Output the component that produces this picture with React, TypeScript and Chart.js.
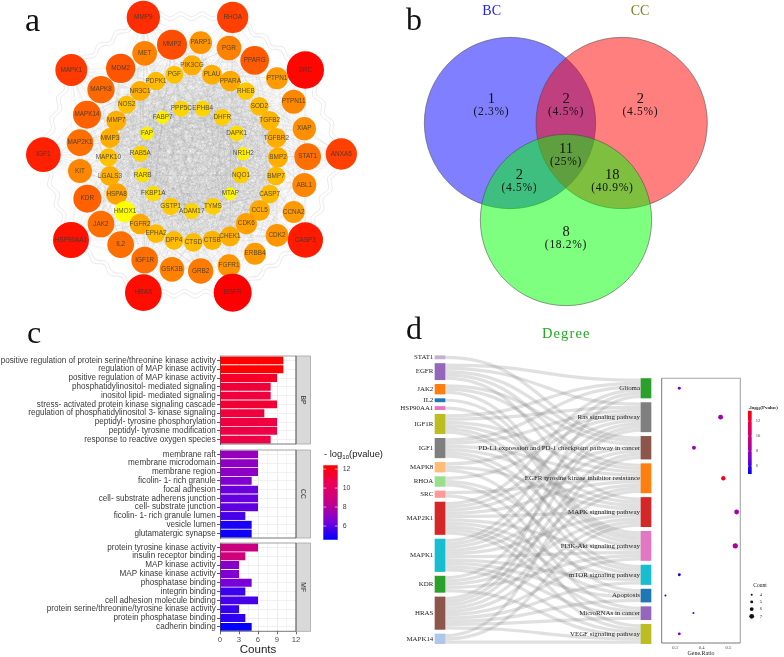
import React, { useEffect, useRef } from "react";
import { Chart, registerables } from "chart.js";

Chart.register(...registerables);

const SANS = '"Liberation Sans", Arial, sans-serif';
const SERIF = '"Liberation Serif", "Times New Roman", serif';

/* ---------- a: network ---------- */
const nodeNames = ["MMP9","RHOA","MMP2","PARP1","PGR","MET","PPARG","SRC","MAPK1","MDM2","PIK3CG","PGF","PDPK1","PLAU","PPARA","PTPN1","NR3C1","MAPK8","RHEB","PTPN11","SOD2","NOS2","PPP5C","EPHB4","FABP7","DHFR","MAPK14","MMP7","TGFB2","XIAP","FAP","DAPK1","MAP2K1","MMP3","TGFBR2","RAB5A","NR1H2","IGF1","ANXA5","STAT1","BMP2","MAPK10","KIT","LGALS3","RARB","NQO1","BMP7","ABL1","KDR","HSPA8","FKBP1A","MTAP","CASP7","GSTP1","ADAM17","TYMS","CCL5","CCNA2","HMOX1","FGFR2","CDK6","JAK2","HSP90AA1","CASP3","EPHA2","CHEK1","CDK2","DPP4","CTSD","CTSB","IL2","ERBB4","IGF1R","GSK3B","GRB2","FGFR1","HRAS","EGFR"];
const nodeX = [430,698,516,602,687,434,764,916,214,362,576,523,468,636,691,831,420,303,738,881,778,380,544,608,488,667,261,349,809,913,441,710,240,330,829,421,730,130,1024,923,834,325,240,330,428,723,828,913,262,350,460,691,809,512,575,639,779,881,375,420,739,303,213,916,468,690,831,522,580,637,362,765,434,516,602,687,430,698];
const nodeY = [52,52,134,128,144,160,181,210,210,205,196,224,243,224,243,235,273,269,273,305,319,314,326,326,352,352,344,362,362,386,400,400,428,414,414,461,461,464,462,470,472,472,513,528,525,525,528,555,596,582,581,581,582,619,633,619,631,636,635,672,671,672,720,720,701,709,706,721,727,721,734,761,780,808,813,797,878,878];
const nodeDegree = [50,47,45,34,37,37,43,56,48,44,30,27,28,30,31,33,30,41,26,36,28,27,24,24,20,25,42,30,29,35,20,23,40,30,30,24,20,52,47,40,30,27,36,30,22,25,28,36,42,32,23,19,28,26,24,25,31,33,32,31,32,40,54,53,28,30,34,28,28,29,40,33,40,37,38,34,55,57];
const heatOverride: Record<string, number> = { HMOX1: 17 };
const hullNodes = ["MAPK1","MMP9","RHOA","SRC","ANXA5","CASP3","EGFR","HRAS","HSP90AA1","IGF1"];

function nodeColor(i: number) {
  const d = heatOverride[nodeNames[i]] ?? nodeDegree[i];
  const g = Math.max(0, Math.min(255, 245 - (d - 19) * 6.45));
  return `rgb(255,${Math.round(g)},0)`;
}

const networkPlugin = {
  id: "network",
  beforeDatasetsDraw(chart: any) {
    const { ctx, scales } = chart;
    const px = (i: number) => scales.x.getPixelForValue(nodeX[i]);
    const py = (i: number) => scales.y.getPixelForValue(nodeY[i]);
    ctx.save();
    ctx.lineWidth = 0.5;
    ctx.strokeStyle = "rgba(150,150,150,0.15)";
    for (let i = 0; i < nodeNames.length; i++) {
      for (let j = i + 1; j < nodeNames.length; j++) {
        const innerPair = nodeDegree[i] <= 31 && nodeDegree[j] <= 31;
        if ((i + j) % 2 && !innerPair) continue;
        ctx.beginPath();
        ctx.moveTo(px(i), py(i));
        ctx.lineTo(px(j), py(j));
        ctx.stroke();
      }
    }
    ctx.strokeStyle = "rgba(175,175,175,0.5)";
    hullNodes.forEach((name, k) => {
      const a = nodeNames.indexOf(name);
      const b = nodeNames.indexOf(hullNodes[(k + 1) % hullNodes.length]);
      const x0 = px(a), y0 = py(a), x1 = px(b), y1 = py(b);
      const len = Math.hypot(x1 - x0, y1 - y0);
      const nx = -(y1 - y0) / len, ny = (x1 - x0) / len;
      [-3, 1].forEach((shift) => {
        ctx.beginPath();
        for (let s = 0; s <= len; s += 1.5) {
          const t = s / len;
          const w = Math.sin(s / 3.4) * 2.4 + shift;
          const bx = x0 + (x1 - x0) * t + nx * w, by = y0 + (y1 - y0) * t + ny * w;
          if (s === 0) ctx.moveTo(bx, by); else ctx.lineTo(bx, by);
        }
        ctx.stroke();
      });
    });
    ctx.restore();
  },
  afterDatasetsDraw(chart: any) {
    const { ctx, scales } = chart;
    ctx.save();
    ctx.font = `6.4px ${SANS}`;
    ctx.fillStyle = "rgba(55,55,55,0.85)";
    ctx.textAlign = "center";
    ctx.textBaseline = "middle";
    nodeNames.forEach((n, i) => ctx.fillText(n, scales.x.getPixelForValue(nodeX[i]), scales.y.getPixelForValue(nodeY[i])));
    ctx.restore();
  },
};

const hiddenScale = (min: number, max: number, reverse = false) => ({ type: "linear", display: false, min, max, reverse });
const baseOptions = (padding: any) => ({
  responsive: false,
  animation: false,
  maintainAspectRatio: false,
  layout: { padding, autoPadding: false },
  plugins: { legend: { display: false }, tooltip: { enabled: false }, title: { display: false } },
});
const noScalePadding = (s: any) => { s.paddingTop = 0; s.paddingBottom = 0; s.paddingLeft = 0; s.paddingRight = 0; };

const networkConfig = {
  type: "bubble",
  data: {
    datasets: [{
      data: nodeNames.map((_, i) => ({ x: nodeX[i], y: nodeY[i], r: nodeDegree[i] / 3 })),
      backgroundColor: nodeNames.map((_, i) => nodeColor(i)),
      borderWidth: 0,
      clip: false,
    }],
  },
  options: { ...baseOptions(0), scales: { x: hiddenScale(0, 1176), y: hiddenScale(0, 990, true) } },
  plugins: [networkPlugin],
};

/* ---------- b: Venn ---------- */
const vennSets = ["BC", "CC", "Degree"];
const vennX = [345, 680, 513];
const vennY = [369, 369, 660];
const vennR = [257, 257, 257];
const vennFill = ["rgba(0,0,255,0.5)", "rgba(255,0,0,0.5)", "rgba(0,255,0,0.5)"];
const vennCounts = ["1", "2", "2", "11", "2", "18", "8"];
const vennShares = ["(2.3%)", "(4.5%)", "(4.5%)", "(25%)", "(4.5%)", "(40.9%)", "(18.2%)"];
const vennLabelX = [289, 513, 736, 513, 373, 652, 513];
const vennLabelY = [297, 297, 297, 448, 525, 525, 697];

const vennPlugin = {
  id: "vennLabels",
  afterDatasetsDraw(chart: any) {
    const { ctx, scales } = chart;
    const X = (v: number) => scales.x.getPixelForValue(v);
    const Y = (v: number) => scales.y.getPixelForValue(v);
    ctx.save();
    ctx.textAlign = "center";
    ctx.textBaseline = "middle";
    ctx.font = `14px ${SERIF}`;
    ctx.fillStyle = "#2222ee";
    ctx.fillText(vennSets[0], X(290), Y(33));
    ctx.fillStyle = "#808020";
    ctx.fillText(vennSets[1], X(735), Y(33));
    vennCounts.forEach((c, i) => {
      ctx.fillStyle = "#111";
      ctx.font = `14.5px ${SERIF}`;
      ctx.fillText(c, X(vennLabelX[i]), Y(vennLabelY[i]));
      ctx.font = `11.5px ${SERIF}`;
      ctx.letterSpacing = "0.7px";
      ctx.fillText(vennShares[i], X(vennLabelX[i]), Y(vennLabelY[i] + 38));
      ctx.letterSpacing = "0px";
    });
    ctx.restore();
  },
};

const vennConfig = {
  type: "bubble",
  data: {
    datasets: [{
      data: vennX.map((x, i) => ({ x, y: vennY[i], r: vennR[i] / 3 })),
      backgroundColor: vennFill,
      borderColor: "rgba(70,70,70,0.9)",
      borderWidth: 0.6,
      clip: false,
    }],
  },
  options: { ...baseOptions(0), scales: { x: hiddenScale(0, 1167), y: hiddenScale(0, 990, true) } },
  plugins: [vennPlugin],
};

/* ---------- c: GO bars ---------- */
const bpTerms = ["positive regulation of protein serine/threonine kinase activity","regulation of MAP kinase activity","positive regulation of MAP kinase activity","phosphatidylinositol- mediated signaling","inositol lipid- mediated signaling","stress- activated protein kinase signaling cascade","regulation of phosphatidylinositol 3- kinase signaling","peptidyl- tyrosine phosphorylation","peptidyl- tyrosine modification","response to reactive oxygen species"];
const bpCounts = [10,10,9,8,8,9,7,9,9,8];
const bpLogP = [12.4,12.4,11.5,11.2,11.1,11.3,11.1,11.0,10.9,10.9];
const ccTerms = ["membrane raft","membrane microdomain","membrane region","ficolin- 1- rich granule","focal adhesion","cell- substrate adherens junction","cell- substrate junction","ficolin- 1- rich granule lumen","vesicle lumen","glutamatergic synapse"];
const ccCounts = [6,6,6,5,6,6,6,4,5,5];
const ccLogP = [7.2,7.1,7.0,6.7,6.3,6.2,6.1,5.7,5.0,4.8];
const mfTerms = ["protein tyrosine kinase activity","insulin receptor binding","MAP kinase activity","MAP kinase kinase activity","phosphatase binding","integrin binding","cell adhesion molecule binding","protein serine/threonine/tyrosine kinase activity","protein phosphatase binding","cadherin binding"];
const mfCounts = [6,4,3,3,5,4,6,3,4,5];
const mfLogP = [8.8,9.1,6.9,6.7,6.5,5.5,5.7,5.4,5.3,4.6];
const countTicks = [0, 1.5, 3, 4.5, 6, 7.5, 9, 10.5, 12];
const goRange = [4.56, 12.4];
const legendTicks = [6, 8, 10, 12];

const gradientStops: [number, number[]][] = [[0,[0,0,255]],[0.25,[122,0,216]],[0.5,[196,0,136]],[0.75,[232,0,90]],[1,[255,0,0]]];
function heat(t: number) {
  const c = Math.max(0, Math.min(1, t));
  for (let i = 1; i < gradientStops.length; i++) {
    const [t1, a] = gradientStops[i - 1];
    const [t2, b] = gradientStops[i];
    if (c <= t2) {
      const f = (c - t1) / (t2 - t1);
      return `rgb(${a.map((v, k) => Math.round(v + (b[k] - v) * f)).join(",")})`;
    }
  }
  return "rgb(255,0,0)";
}

function facetConfig(terms: string[], counts: number[], logP: number[], strip: string, showX: boolean, axisHeight: number) {
  const framePlugin = {
    id: "facetFrame",
    afterDatasetsDraw(chart: any) {
      const { ctx, chartArea: a } = chart;
      ctx.save();
      ctx.fillStyle = "#d9d9d9";
      ctx.fillRect(a.right, a.top, 14.5, a.bottom - a.top);
      ctx.strokeStyle = "#a8a8a8";
      ctx.lineWidth = 0.8;
      ctx.strokeRect(a.right, a.top, 14.5, a.bottom - a.top);
      ctx.strokeStyle = "#8a8a8a";
      ctx.beginPath(); ctx.moveTo(a.left, a.top); ctx.lineTo(a.right, a.top); ctx.stroke();
      ctx.strokeStyle = "#555";
      ctx.beginPath(); ctx.moveTo(a.left, a.bottom); ctx.lineTo(a.right, a.bottom); ctx.stroke();
      ctx.strokeStyle = "#444";
      ctx.beginPath(); ctx.moveTo(a.right, a.top); ctx.lineTo(a.right, a.bottom); ctx.stroke();
      ctx.translate(a.right + 7.2, (a.top + a.bottom) / 2);
      ctx.rotate(Math.PI / 2);
      ctx.fillStyle = "#333";
      ctx.font = `6.8px ${SANS}`;
      ctx.textAlign = "center";
      ctx.textBaseline = "middle";
      ctx.fillText(strip, 0, 0);
      ctx.restore();
    },
  };
  return {
    type: "bar",
    data: {
      labels: terms,
      datasets: [{
        data: counts,
        backgroundColor: logP.map((v) => heat((v - goRange[0]) / (goRange[1] - goRange[0]))),
        barPercentage: 0.9,
        categoryPercentage: 1,
      }],
    },
    options: {
      ...baseOptions({ left: 0, right: 24, top: 2, bottom: showX ? 0 : 2 }),
      indexAxis: "y",
      scales: {
        x: {
          type: "linear",
          min: 0,
          max: 12,
          afterBuildTicks: (s: any) => { s.ticks = countTicks.map((value) => ({ value })); },
          afterFit: (s: any) => { s.height = axisHeight; noScalePadding(s); },
          ticks: {
            display: showX, autoSkip: false, maxRotation: 0, padding: 1,
            font: { size: 7.7, family: SANS }, color: "#4d4d4d",
            callback: (v: number) => (v % 3 === 0 ? String(v) : ""),
          },
          grid: {
            color: (c: any) => (c.tick && c.tick.value % 3 === 0 ? "#e6e6e6" : "#f3f3f3"),
            lineWidth: 0.8, drawTicks: showX, tickLength: 3,
            tickColor: (c: any) => (c.tick && c.tick.value % 3 === 0 ? "#444" : "rgba(0,0,0,0)"),
          },
          border: { display: false },
          title: { display: showX, text: "Counts", font: { size: 11.6, family: SANS }, color: "#222", padding: { top: 0, bottom: 0 } },
        },
        y: {
          type: "category",
          afterFit: (s: any) => { s.width = 220; noScalePadding(s); },
          ticks: { autoSkip: false, padding: 1.3, font: { size: 8.15, family: SANS }, color: "#3a3a3a" },
          grid: { offset: false, color: "#ececec", lineWidth: 0.8, tickLength: 3, tickColor: "#333" },
          border: { display: true, color: "#444", width: 0.9 },
        },
      },
    },
    plugins: [framePlugin],
  };
}

function colorbarConfig(range: number[], ticks: number[], tickFont: string, tickSize: number, padding: any, axisWidth: number, tickPad: number, drawTitle: (ctx: any, a: any) => void) {
  const plugin = {
    id: "barDecor",
    afterDatasetsDraw(chart: any) {
      const { ctx, chartArea: a, scales } = chart;
      ctx.save();
      const mark = (a.right - a.left) / 5;
      ctx.strokeStyle = "#fff";
      ctx.lineWidth = 0.6;
      ticks.forEach((v) => {
        const y = scales.y.getPixelForValue(v);
        ctx.beginPath(); ctx.moveTo(a.left, y); ctx.lineTo(a.left + mark, y); ctx.moveTo(a.right - mark, y); ctx.lineTo(a.right, y); ctx.stroke();
      });
      drawTitle(ctx, a);
      ctx.restore();
    },
  };
  return {
    type: "bar",
    data: {
      labels: ["scale"],
      datasets: [{
        data: [[range[0], range[1]]],
        barPercentage: 1,
        categoryPercentage: 1,
        borderSkipped: false,
        backgroundColor: (c: any) => {
          const a = c.chart.chartArea;
          if (!a) return "#800080";
          const g = c.chart.ctx.createLinearGradient(0, a.bottom, 0, a.top);
          gradientStops.forEach(([t]) => g.addColorStop(t, heat(t)));
          return g;
        },
      }],
    },
    options: {
      ...baseOptions(padding),
      scales: {
        x: { type: "category", display: false },
        y: {
          type: "linear",
          position: "right",
          min: range[0],
          max: range[1],
          afterBuildTicks: (s: any) => { s.ticks = ticks.map((value) => ({ value })); },
          afterFit: (s: any) => { s.width = axisWidth; noScalePadding(s); },
          ticks: { padding: tickPad, font: { size: tickSize, family: tickFont }, color: "#444" },
          grid: { display: false, drawTicks: false, tickLength: 0 },
          border: { display: false },
        },
      },
    },
    plugins: [plugin],
  };
}

const goLegendConfig = colorbarConfig(goRange, legendTicks, SANS, 7, { left: 3.3, right: 0, top: 19.3, bottom: 5.3 }, 54.3, 5, (ctx, a) => {
  ctx.fillStyle = "#222";
  ctx.textAlign = "left";
  ctx.textBaseline = "alphabetic";
  const y = a.top - 8.5;
  let x = a.left + 0.7;
  ctx.font = `9.4px ${SANS}`;
  ctx.fillText("- log", x, y);
  x += ctx.measureText("- log").width;
  ctx.font = `6.2px ${SANS}`;
  ctx.fillText("10", x, y + 2);
  x += ctx.measureText("10").width;
  ctx.font = `9.4px ${SANS}`;
  ctx.fillText("(pvalue)", x, y);
});

/* ---------- d: Sankey + dots ---------- */
const genes = ["STAT1","EGFR","JAK2","IL2","HSP90AA1","IGF1R","IGF1","MAPK8","RHOA","SRC","MAP2K1","MAPK1","KDR","HRAS","MAPK14"];
const geneColors = ["#c5b0d5","#9467bd","#ff7f0e","#1f77b4","#e377c2","#bcbd22","#7f7f7f","#ffbb78","#98df8a","#ff9896","#d62728","#17becf","#2ca02c","#8c564b","#aec7e8"];
const pathways = ["Glioma","Ras signaling pathway","PD-L1 expression and PD-1 checkpoint pathway in cancer","EGFR tyrosine kinase inhibitor resistance","MAPK signaling pathway","PI3K-Akt signaling pathway","mTOR signaling pathway","Apoptosis","MicroRNAs in cancer","VEGF signaling pathway"];
const pathwayColors = ["#2ca02c","#7f7f7f","#8c564b","#ff7f0e","#d62728","#e377c2","#17becf","#1f77b4","#9467bd","#bcbd22"];
const pathwayGenes = [
  ["EGFR","IGF1R","IGF1","MAP2K1","MAPK1","HRAS"],
  ["EGFR","IGF1R","IGF1","MAPK8","RHOA","MAP2K1","MAPK1","KDR","HRAS"],
  ["STAT1","EGFR","JAK2","MAP2K1","MAPK1","HRAS","MAPK14"],
  ["EGFR","JAK2","IGF1R","IGF1","SRC","MAP2K1","MAPK1","KDR","HRAS"],
  ["EGFR","IGF1R","IGF1","MAPK8","MAP2K1","MAPK1","KDR","HRAS","MAPK14"],
  ["JAK2","IL2","HSP90AA1","IGF1R","IGF1","MAP2K1","MAPK1","KDR","HRAS"],
  ["IGF1R","IGF1","RHOA","MAP2K1","MAPK1","HRAS"],
  ["MAPK8","MAP2K1","MAPK1","HRAS"],
  ["RHOA","MAP2K1","MAPK1","HRAS"],
  ["SRC","MAP2K1","MAPK1","KDR","HRAS","MAPK14"],
];
const pathwayRatio = [0.316, 0.471, 0.371, 0.481, 0.531, 0.526, 0.316, 0.264, 0.369, 0.316];
const pathwayCount = [5, 7, 6, 6.5, 7, 7.4, 5, 4, 4, 5];
const pathwayLogP = [7.2, 8.1, 8.0, 12.6, 8.5, 8.5, 5.2, 5.0, 5.7, 7.2];
const ratioTicks = [0.3, 0.4, 0.5];
const dotRange = [4.93, 13.4];
const dotLegendTicks = [6, 8, 10, 12];
const sizeLegend = [4, 5, 6, 7];

const NODE_GAP = 1.406;
const geneCounts = genes.map((g) => pathwayGenes.filter((p) => p.includes(g)).length);
const pathwayCounts = pathwayGenes.map((p) => p.length);
const stackNodes = (counts: number[], start: number) => {
  let y = start;
  return counts.map((c) => { const r = [y, y + c]; y += c + NODE_GAP; return r; });
};
const geneSpans = stackNodes(geneCounts, 0);
const totalSpan = geneSpans[geneSpans.length - 1][1];
const pathwaySpans = stackNodes(pathwayCounts, totalSpan - (pathwayCounts.reduce((a, b) => a + b, 0) + NODE_GAP * (pathwayCounts.length - 1)));

const sankeyPlugin = {
  id: "sankeyLinks",
  beforeDatasetsDraw(chart: any) {
    const { ctx, chartArea: a, scales } = chart;
    const unit = Math.abs(scales.y.getPixelForValue(1) - scales.y.getPixelForValue(0));
    const x0 = a.left + 5, x1 = a.right - 5, mid = (x0 + x1) / 2;
    ctx.save();
    ctx.lineWidth = unit;
    ctx.strokeStyle = "rgba(125,125,125,0.24)";
    genes.forEach((g, gi) => {
      let off = 0;
      pathways.forEach((_, pi) => {
        if (!pathwayGenes[pi].includes(g)) return;
        const inOrder = genes.filter((n) => pathwayGenes[pi].includes(n)).indexOf(g);
        const ya = scales.y.getPixelForValue(geneSpans[gi][0] + off + 0.5);
        const yb = scales.y.getPixelForValue(pathwaySpans[pi][0] + inOrder + 0.5);
        off += 1;
        ctx.beginPath();
        ctx.moveTo(x0, ya);
        ctx.bezierCurveTo(mid, ya, mid, yb, x1, yb);
        ctx.stroke();
      });
    });
    ctx.restore();
  },
  afterDatasetsDraw(chart: any) {
    const { ctx, chartArea: a, scales } = chart;
    ctx.save();
    ctx.font = `6.9px ${SERIF}`;
    ctx.fillStyle = "#222";
    ctx.textAlign = "right";
    ctx.textBaseline = "middle";
    genes.forEach((g, i) => ctx.fillText(g, a.left - 6.7, scales.y.getPixelForValue((geneSpans[i][0] + geneSpans[i][1]) / 2)));
    pathways.forEach((p, i) => ctx.fillText(p, a.right - 6, scales.y.getPixelForValue((pathwaySpans[i][0] + pathwaySpans[i][1]) / 2)));
    ctx.restore();
  },
};

const sankeyConfig = {
  type: "bar",
  data: {
    labels: ["genes", "pathways"],
    datasets: [
      ...genes.map((g, i) => ({ label: g, data: [geneSpans[i], null], backgroundColor: geneColors[i] })),
      ...pathways.map((p, i) => ({ label: p, data: [null, pathwaySpans[i]], backgroundColor: pathwayColors[i] })),
    ].map((d) => ({ ...d, barThickness: 10, grouped: false, borderSkipped: false, clip: false })),
  },
  options: {
    ...baseOptions({ left: 45, right: 9, top: 5.7, bottom: 6.3 }),
    scales: {
      x: { type: "category", display: false, offset: false, grid: { offset: false } },
      y: hiddenScale(0, totalSpan, true),
    },
  },
  plugins: [sankeyPlugin],
};

const countRadius = (c: number) => 1 + (c - 4) * 0.47;

const dotFrame = {
  id: "dotFrame",
  afterDatasetsDraw(chart: any) {
    const { ctx, chartArea: a } = chart;
    ctx.save();
    ctx.lineWidth = 1.1;
    ctx.strokeStyle = "#a6a6a6";
    ctx.beginPath(); ctx.moveTo(a.left, a.top); ctx.lineTo(a.right, a.top); ctx.lineTo(a.right, a.bottom); ctx.stroke();
    ctx.lineWidth = 0.8;
    ctx.strokeStyle = "#555";
    ctx.beginPath(); ctx.moveTo(a.left, a.top); ctx.lineTo(a.left, a.bottom); ctx.lineTo(a.right, a.bottom); ctx.stroke();
    ctx.restore();
  },
};

const dotConfig = {
  type: "bubble",
  data: {
    datasets: [{
      data: pathways.map((_, i) => ({ x: pathwayRatio[i], y: (pathwaySpans[i][0] + pathwaySpans[i][1]) / 2, r: countRadius(pathwayCount[i]) })),
      backgroundColor: pathwayLogP.map((v) => heat((v - dotRange[0]) / (dotRange[1] - dotRange[0]))),
      borderWidth: 0,
      clip: false,
    }],
  },
  options: {
    ...baseOptions({ left: 6.7, right: 6.7, top: 8.3, bottom: 0 }),
    scales: {
      x: {
        type: "linear",
        min: 0.25,
        max: 0.5448,
        afterBuildTicks: (s: any) => { s.ticks = ratioTicks.map((value) => ({ value })); },
        afterFit: (s: any) => { s.height = 14; noScalePadding(s); },
        ticks: { autoSkip: false, maxRotation: 0, padding: 0.6, font: { size: 4.6, family: SERIF }, color: "#444", callback: (v: number) => v.toFixed(1) },
        grid: { display: false, tickLength: 1.5, tickColor: "#555" },
        border: { display: false },
        title: { display: true, text: "Gene.Ratio", font: { size: 6, family: SERIF }, color: "#222", padding: { top: 0, bottom: 0 } },
      },
      y: hiddenScale(6.96, 88.5, true),
    },
  },
  plugins: [dotFrame],
};

const dotLegendConfig = colorbarConfig(dotRange, dotLegendTicks, SERIF, 4.6, { left: 4, right: 0, top: 10.7, bottom: 5 }, 32.3, 4, (ctx, a) => {
  ctx.fillStyle = "#222";
  ctx.textBaseline = "alphabetic";
  ctx.textAlign = "left";
  const y = a.top - 2.2;
  let x = a.left + 0.6;
  ctx.font = `bold 5px ${SERIF}`;
  ctx.fillText("-log", x, y);
  x += ctx.measureText("-log").width;
  ctx.font = `bold 3.6px ${SERIF}`;
  ctx.fillText("10", x, y + 1);
  x += ctx.measureText("10").width;
  ctx.font = `bold 5px ${SERIF}`;
  ctx.fillText("(Pvalue)", x, y);
});

const sizeLegendPlugin = {
  id: "sizeLegend",
  afterDatasetsDraw(chart: any) {
    const { ctx, scales } = chart;
    ctx.save();
    ctx.fillStyle = "#222";
    ctx.textBaseline = "middle";
    ctx.textAlign = "center";
    ctx.font = `5.6px ${SERIF}`;
    ctx.fillText("Count", 16, 8);
    ctx.font = `4.6px ${SERIF}`;
    ctx.textAlign = "left";
    sizeLegend.forEach((c) => ctx.fillText(String(c), 15.7, scales.y.getPixelForValue(c)));
    ctx.restore();
  },
};

const sizeLegendConfig = {
  type: "bubble",
  data: {
    datasets: [{
      data: sizeLegend.map((c) => ({ x: 0, y: c, r: countRadius(c) })),
      backgroundColor: "#111",
      borderWidth: 0,
      clip: false,
    }],
  },
  options: {
    ...baseOptions({ left: 3.7, right: 28.3, top: 16.7, bottom: 6.7 }),
    scales: { x: hiddenScale(-1, 1), y: hiddenScale(4, 7, true) },
  },
  plugins: [sizeLegendPlugin],
};

/* ---------- page ---------- */
function ChartCanvas({ left, top, width, height, config }: any) {
  const ref = useRef<HTMLCanvasElement | null>(null);
  useEffect(() => {
    const chart = new Chart(ref.current as HTMLCanvasElement, config);
    return () => chart.destroy();
  }, [config]);
  return <canvas ref={ref} width={width} height={height} style={{ position: "absolute", left, top, width, height }} />;
}

const letterStyle = (left: number, top: number, size: number): React.CSSProperties => ({
  position: "absolute", left, top, fontFamily: SERIF, fontSize: size, lineHeight: 1, color: "#111",
});

const bpConfig = facetConfig(bpTerms, bpCounts, bpLogP, "BP", false, 0);
const ccConfig = facetConfig(ccTerms, ccCounts, ccLogP, "CC", false, 0);
const mfConfig = facetConfig(mfTerms, mfCounts, mfLogP, "MF", true, 25.7);

export default function App() {
  return (
    <div style={{ position: "absolute", left: 0, top: 0, width: 784, height: 657, overflow: "hidden", background: "#fff", filter: "blur(0.3px)" }}>
      <ChartCanvas left={0} top={0} width={392} height={330} config={networkConfig} />
      <ChartCanvas left={395} top={0} width={389} height={330} config={vennConfig} />
      <ChartCanvas left={0} top={354} width={320} height={92} config={bpConfig} />
      <ChartCanvas left={0} top={448} width={320} height={92} config={ccConfig} />
      <ChartCanvas left={0} top={541} width={320} height={116} config={mfConfig} />
      <ChartCanvas left={320} top={446} width={72} height={99} config={goLegendConfig} />
      <ChartCanvas left={395} top={350} width={260} height={300} config={sankeyConfig} />
      <ChartCanvas left={655} top={370} width={92} height={287} config={dotConfig} />
      <ChartCanvas left={744} top={400} width={40} height={79} config={dotLegendConfig} />
      <ChartCanvas left={744} top={578} width={40} height={45} config={sizeLegendConfig} />
      <div style={letterStyle(25, 3, 34)}>a</div>
      <div style={letterStyle(406, 3, 32)}>b</div>
      <div style={letterStyle(27, 316, 32)}>c</div>
      <div style={letterStyle(406, 312, 32)}>d</div>
      <div style={{ position: "absolute", left: 542, top: 325, fontFamily: SERIF, fontSize: 14.5, letterSpacing: 1.1, lineHeight: "16px", color: "#22aa22" }}>Degree</div>
    </div>
  );
}
